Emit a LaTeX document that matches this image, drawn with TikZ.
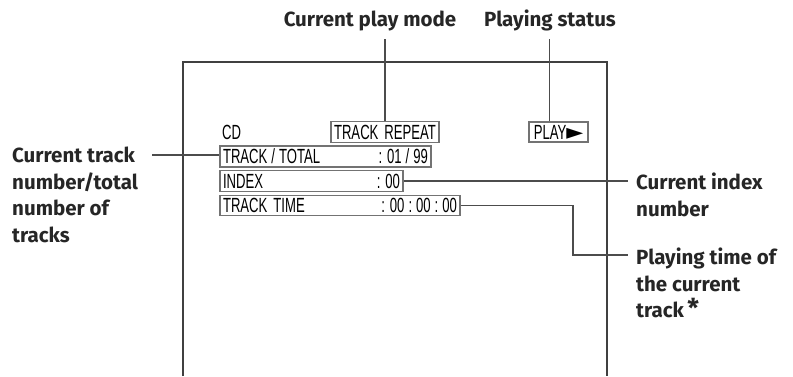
\documentclass[tikz,border=0pt]{standalone}
\usepackage{fontspec}
\setmainfont{Fira Sans}
\newfontfamily\lcdfont[FakeStretch=0.64]{Liberation Sans}
\newfontfamily\symfont{DejaVu Sans}
\usetikzlibrary{calc,positioning}

\begin{document}
\begin{tikzpicture}[x=1pt, y=-1pt,
  lbl/.style={font=\fontsize{20.5}{26.5}\selectfont\bfseries, text=black!85, inner sep=0pt, align=left},
  lcd/.style={draw=black!55, line width=1.3pt, font=\lcdfont\fontsize{20.5}{20.5}\selectfont, text=black, inner sep=3pt, minimum height=20pt},
  wire/.style={draw=black!70, line width=1.3pt},
  frame/.style={draw=black!75, line width=1.8pt}
]
\useasboundingbox (0,0) rectangle (793,376);

% screen outline
\draw[frame] (183,376) -- (183,62) -- (607,62) -- (607,376);

% display contents
\node[font=\lcdfont\fontsize{20.5}{20.5}\selectfont, anchor=west, inner sep=0pt] (cd) at (222,132) {CD};
\node[lcd, minimum width=106pt] (repeat) at (385,132) {TRACK\hspace{6pt}REPEAT};
\node[lcd, minimum width=59pt, inner sep=1pt] (play) at (558.5,132) {PLAY{\symfont\fontsize{22}{22}\selectfont ►}};
\node[lcd, text width=205pt] (trackbox) at (325.5,156.5) {TRACK\hspace{4pt}/\hspace{4pt}TOTAL\hfill:\hspace{5pt}01\hspace{4pt}/\hspace{4pt}99};
\node[lcd, text width=177pt] (indexbox) at (311.5,181) {INDEX\hfill:\hspace{5pt}00};
\node[lcd, text width=234pt] (timebox) at (340,205.5) {TRACK\hspace{6pt}TIME\hfill:\hspace{5pt}00\hspace{4pt}:\hspace{4pt}00\hspace{4pt}:\hspace{4pt}00};

% labels
\node[lbl, anchor=base] (mode) at (370,26) {Current play mode};
\node[lbl, anchor=base] (status) at (550,26) {Playing status};
\node[lbl, anchor=north west] (tracklbl) at (12,147) {Current track\\number/total\\number of\\tracks};
\node[lbl, anchor=north west] (indexlbl) at (636,173) {Current index\\number};
\node[lbl, anchor=north west] (timelbl) at (636,248) {Playing time of\\the current\\track\,{\fontsize{26}{26}\selectfont*}};

% connectors
\coordinate (trackend) at (152,155);
\coordinate (bend) at (573,255);
\draw[wire] (repeat.north) -- (repeat.north |- 0,39);
\draw[wire] ([xshift=-9pt]play.north) -- ([xshift=-9pt]play.north |- 0,39);
\draw[wire] (trackbox.west |- trackend) -- (trackend);
\draw[wire] (indexbox.east) -- ([xshift=-8pt]indexlbl.west |- indexbox.east);
\draw[wire] (timebox.east) -| (bend) -- ([xshift=-8pt]timelbl.west |- bend);
\end{tikzpicture}
\end{document}
